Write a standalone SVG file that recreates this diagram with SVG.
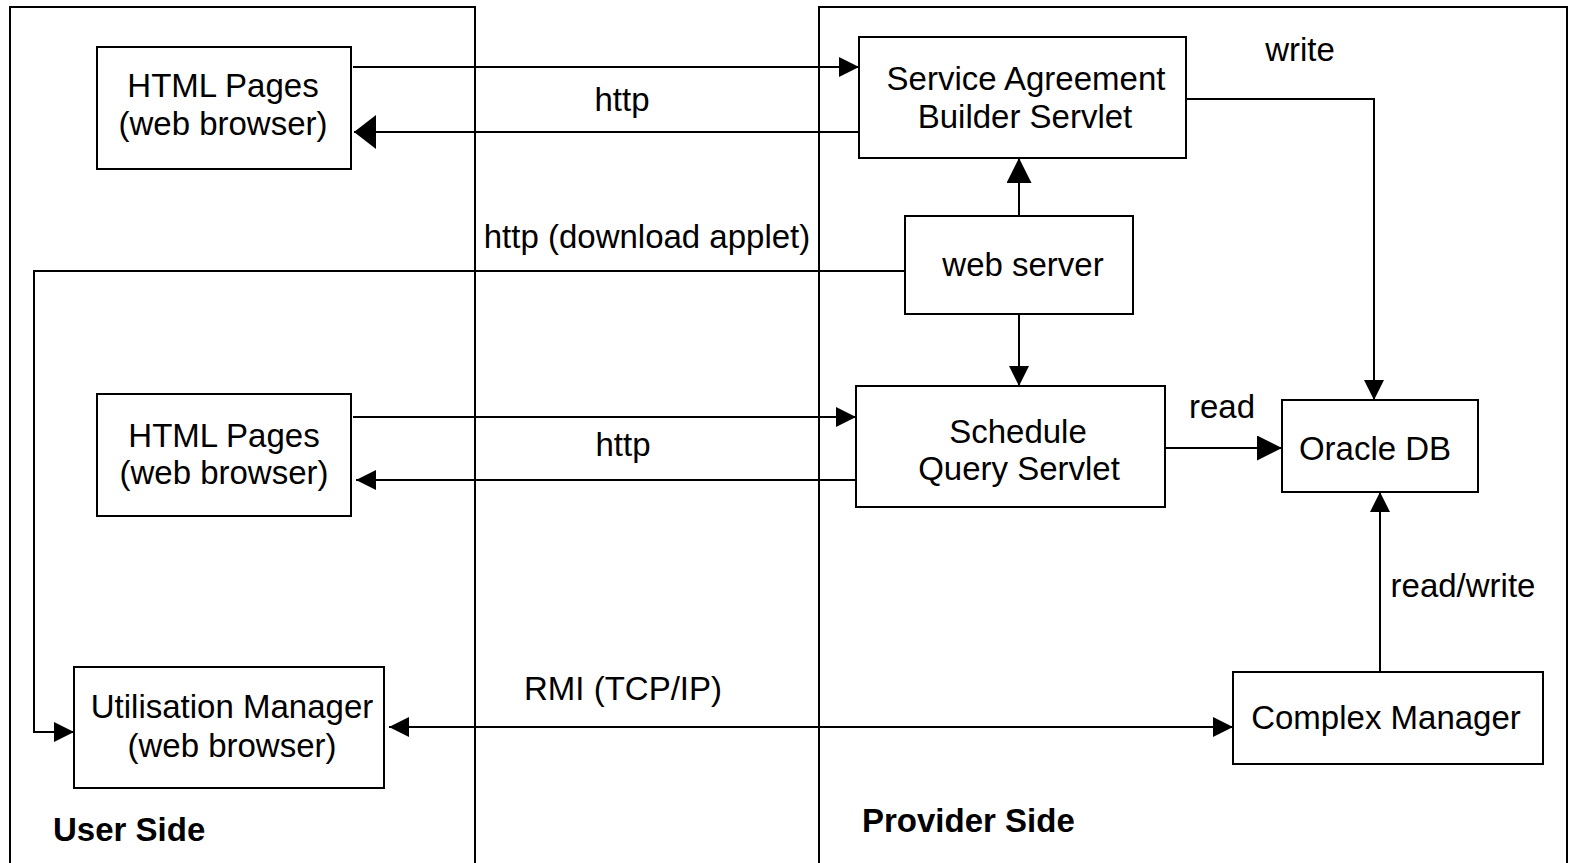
<svg xmlns="http://www.w3.org/2000/svg" width="1571" height="863" viewBox="0 0 1571 863">
<style>
text{font-family:"Liberation Sans",Arial,sans-serif;font-size:33px;fill:#000}
.c{text-anchor:middle}
.b{font-weight:bold}
.box{fill:#fff;stroke:#000;stroke-width:2}
.panel{fill:none;stroke:#000;stroke-width:2}
.ln{fill:none;stroke:#000;stroke-width:2}
</style>
<defs>
<marker id="a" markerUnits="userSpaceOnUse" viewBox="0 0 20 20" markerWidth="20" markerHeight="20" refX="20" refY="10" orient="auto"><path d="M0,0L20,10L0,20z" fill="#000"/></marker>
<marker id="ab" markerUnits="userSpaceOnUse" viewBox="0 0 22 34" markerWidth="22" markerHeight="34" refX="22" refY="17" orient="auto"><path d="M0,0L22,17L0,34z" fill="#000"/></marker>
<marker id="am" markerUnits="userSpaceOnUse" viewBox="0 0 25 25" markerWidth="25" markerHeight="25" refX="25" refY="12.5" orient="auto"><path d="M0,0L25,12.5L0,25z" fill="#000"/></marker>
<marker id="as" markerUnits="userSpaceOnUse" viewBox="0 0 20 20" markerWidth="20" markerHeight="20" refX="0" refY="10" orient="auto"><path d="M20,0L0,10L20,20z" fill="#000"/></marker>
</defs>
<rect width="1571" height="863" fill="#fff"/>
<g id="user-side">
<rect class="panel" x="10" y="7" width="465" height="880"/>
<text class="b" x="53" y="841">User Side</text>
</g>
<g id="provider-side">
<rect class="panel" x="819" y="7" width="748" height="880"/>
<text class="b" x="862" y="832">Provider Side</text>
</g>
<g id="connectors">
<line class="ln" x1="353" y1="67" x2="859" y2="67" marker-end="url(#a)"/>
<line class="ln" x1="859" y1="132" x2="354" y2="132" marker-end="url(#ab)"/>
<line class="ln" x1="1019" y1="216" x2="1019" y2="158" marker-end="url(#am)"/>
<polyline class="ln" points="905,271 34,271 34,732 74,732" marker-end="url(#a)"/>
<line class="ln" x1="1019" y1="314" x2="1019" y2="386" marker-end="url(#a)"/>
<line class="ln" x1="353" y1="417" x2="856" y2="417" marker-end="url(#a)"/>
<line class="ln" x1="856" y1="480" x2="356" y2="480" marker-end="url(#a)"/>
<polyline class="ln" points="1186,99 1374,99 1374,400" marker-end="url(#a)"/>
<line class="ln" x1="1165" y1="448" x2="1282" y2="448" marker-end="url(#am)"/>
<line class="ln" x1="1380" y1="672" x2="1380" y2="492" marker-end="url(#a)"/>
<line class="ln" x1="389" y1="727" x2="1233" y2="727" marker-start="url(#as)" marker-end="url(#a)"/>
<text class="c" x="1300" y="61">write</text>
<text class="c" x="622" y="111">http</text>
<text class="c" x="647" y="248">http (download applet)</text>
<text class="c" x="623" y="456">http</text>
<text class="c" x="1222" y="418">read</text>
<text class="c" x="1463" y="597">read/write</text>
<text class="c" x="623" y="700">RMI (TCP/IP)</text>
</g>
<g id="html-pages-1">
<rect class="box" x="97" y="47" width="254" height="122"/>
<text class="c" x="223" y="97">HTML Pages</text>
<text class="c" x="223" y="135">(web browser)</text>
</g>
<g id="service-agreement-builder">
<rect class="box" x="859" y="37" width="327" height="121"/>
<text class="c" x="1026" y="90">Service Agreement</text>
<text class="c" x="1025" y="128">Builder Servlet</text>
</g>
<g id="web-server">
<rect class="box" x="905" y="216" width="228" height="98"/>
<text class="c" x="1023" y="276">web server</text>
</g>
<g id="html-pages-2">
<rect class="box" x="97" y="394" width="254" height="122"/>
<text class="c" x="224" y="447">HTML Pages</text>
<text class="c" x="224" y="484">(web browser)</text>
</g>
<g id="schedule-query-servlet">
<rect class="box" x="856" y="386" width="309" height="121"/>
<text class="c" x="1018" y="443">Schedule</text>
<text class="c" x="1019" y="480">Query Servlet</text>
</g>
<g id="oracle-db">
<rect class="box" x="1282" y="400" width="196" height="92"/>
<text class="c" x="1375" y="460">Oracle DB</text>
</g>
<g id="utilisation-manager">
<rect class="box" x="74" y="667" width="310" height="121"/>
<text class="c" x="232" y="718">Utilisation Manager</text>
<text class="c" x="232" y="757">(web browser)</text>
</g>
<g id="complex-manager">
<rect class="box" x="1233" y="672" width="310" height="92"/>
<text class="c" x="1386" y="729">Complex Manager</text>
</g>
</svg>
